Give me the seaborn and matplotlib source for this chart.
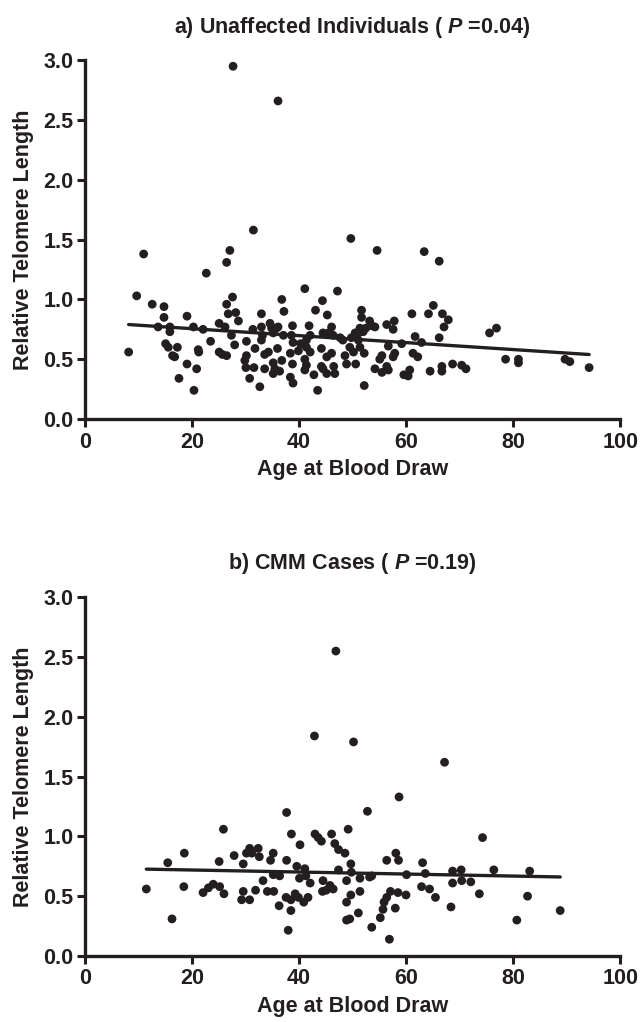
import numpy as np
import matplotlib
matplotlib.use("Agg")
import matplotlib.pyplot as plt
import seaborn as sns

# Panel a: unaffected individuals (age at blood draw, relative telomere length)
age_a = [27.7, 36.1, 31.5, 49.7, 11.0, 27.1, 26.5, 22.7, 9.7, 12.6, 14.8, 14.8, 13.7, 15.9, 15.9,
         19.1, 20.3, 22.1, 8.2, 15.1, 15.6, 17.3, 16.4, 16.8, 21.2, 21.3, 19.1, 20.9, 17.6, 20.4,
         23.5, 25.1, 26.2, 25.1, 25.7, 26.5, 26.5, 26.8, 27.6, 28.2, 28.7, 27.4, 28.0, 30.2, 31.4,
         33.0, 33.0, 33.2, 31.8, 30.2, 29.9, 30.1, 31.6, 30.8, 32.7, 33.6, 34.3, 33.6, 34.6, 34.9,
         35.8, 36.1, 35.2, 36.8, 37.2, 37.1, 36.0, 36.8, 35.2, 35.5, 36.4, 38.8, 38.6, 38.9, 38.4,
         38.8, 38.4, 38.9, 41.1, 41.9, 42.1, 40.3, 41.4, 42.1, 41.1, 42.8, 43.5, 43.1, 44.4, 45.3,
         46.1, 45.5, 44.5, 44.2, 45.2, 46.1, 44.5, 45.2, 46.5, 46.7, 47.2,
         54.6, 63.4, 66.2, 51.7, 51.7, 53.2, 53.6, 54.2, 52.5, 51.4, 50.5, 51.1, 52.0, 56.4, 57.8,
         57.6, 61.1, 61.7, 62.9, 64.2, 65.1, 66.8, 67.9, 67.1, 66.2, 48.2, 49.5, 51.1, 51.4, 52.2,
         48.6, 48.9, 50.6, 56.7, 59.2, 57.9, 57.6, 55.5, 55.1, 61.3, 62.2, 54.2, 55.5, 56.7, 52.2,
         59.6, 60.7, 60.4, 64.5, 66.7, 66.7, 68.7, 70.4, 71.2, 75.6, 76.9, 78.6, 81.0, 81.0, 89.7,
         90.6, 94.2,
         33.0, 41.4, 46.4, 47.7, 49.8, 39.9, 50.2, 35.2, 41.1, 41.4, 44.2, 56.4]
rtl_a = [2.95, 2.66, 1.58, 1.51, 1.38, 1.41, 1.31, 1.22, 1.03, 0.96, 0.94, 0.85, 0.77, 0.77, 0.73,
         0.86, 0.77, 0.75, 0.56, 0.63, 0.60, 0.60, 0.53, 0.52, 0.58, 0.56, 0.46, 0.42, 0.34, 0.24,
         0.65, 0.80, 0.77, 0.56, 0.54, 0.53, 0.96, 0.88, 1.02, 0.89, 0.82, 0.70, 0.62, 0.65, 0.75,
         0.88, 0.77, 0.70, 0.59, 0.53, 0.49, 0.43, 0.43, 0.34, 0.27, 0.54, 0.56, 0.42, 0.80, 0.76,
         0.76, 0.77, 0.72, 1.00, 0.90, 0.70, 0.59, 0.49, 0.47, 0.42, 0.40, 0.78, 0.70, 0.64, 0.55,
         0.46, 0.35, 0.30, 1.09, 0.78, 0.70, 0.63, 0.60, 0.56, 0.41, 0.37, 0.24, 0.91, 0.99, 0.87,
         0.77, 0.72, 0.72, 0.59, 0.52, 0.55, 0.42, 0.38, 0.44, 0.38, 1.07,
         1.41, 1.40, 1.32, 0.91, 0.85, 0.82, 0.78, 0.77, 0.76, 0.76, 0.72, 0.72, 0.73, 0.79, 0.82,
         0.75, 0.88, 0.69, 0.64, 0.88, 0.95, 0.88, 0.83, 0.77, 0.68, 0.66, 0.60, 0.66, 0.60, 0.55,
         0.53, 0.46, 0.46, 0.61, 0.63, 0.55, 0.52, 0.53, 0.50, 0.55, 0.52, 0.42, 0.39, 0.41, 0.28,
         0.37, 0.41, 0.36, 0.40, 0.44, 0.40, 0.46, 0.45, 0.42, 0.72, 0.76, 0.50, 0.50, 0.47, 0.50,
         0.48, 0.43,
         0.66, 0.66, 0.70, 0.68, 0.68, 0.57, 0.56, 0.38, 0.50, 0.45, 0.44, 0.44]

# Panel b: CMM cases
age_b = [46.9, 42.9, 50.2, 37.7, 67.2, 58.7, 52.8, 25.9, 38.6, 40.2, 43.0, 43.6, 44.2, 46.1, 46.7,
         47.4, 48.6, 49.2, 30.8, 32.4, 31.2, 32.6, 30.2, 35.2, 34.7, 37.7, 27.9, 29.6, 25.1, 18.6,
         15.5, 11.5, 18.5, 16.3, 22.1, 23.1, 24.0, 25.2, 26.0, 29.6, 29.3, 30.8, 31.9, 33.3, 34.1,
         35.3, 35.2, 36.4, 36.3, 37.6, 38.5, 38.5, 38.0, 39.3, 39.9, 40.9, 41.7, 39.6, 40.1, 41.1,
         41.3, 42.1, 44.5, 44.4, 45.1, 45.8, 46.4, 47.4, 48.9, 49.7, 49.8, 48.9, 49.7, 48.9, 49.5,
         51.1, 51.4,
         74.3, 58.1, 58.6, 56.4, 63.1, 63.6, 60.1, 51.4, 53.2, 53.6, 68.7, 70.3, 68.7, 70.4, 72.1,
         76.4, 83.1, 62.9, 64.4, 65.5, 73.7, 82.7, 88.8, 80.7, 68.4, 57.1, 56.4, 55.9, 58.5, 60.0,
         55.7, 55.2, 58.0, 53.6, 56.9]
rtl_b = [2.55, 1.84, 1.79, 1.20, 1.62, 1.33, 1.21, 1.06, 1.02, 0.93, 1.02, 0.99, 0.96, 1.02, 0.94,
         0.89, 0.86, 1.06, 0.90, 0.90, 0.86, 0.83, 0.86, 0.86, 0.80, 0.80, 0.84, 0.77, 0.79, 0.86,
         0.78, 0.56, 0.58, 0.31, 0.53, 0.57, 0.60, 0.58, 0.52, 0.54, 0.47, 0.47, 0.55, 0.63, 0.54,
         0.54, 0.68, 0.67, 0.42, 0.49, 0.47, 0.38, 0.215, 0.52, 0.49, 0.45, 0.49, 0.75, 0.65, 0.73,
         0.67, 0.61, 0.63, 0.54, 0.55, 0.59, 0.56, 0.72, 0.63, 0.77, 0.70, 0.45, 0.51, 0.30, 0.31,
         0.36, 0.54,
         0.99, 0.86, 0.80, 0.80, 0.78, 0.69, 0.68, 0.65, 0.66, 0.67, 0.71, 0.72, 0.61, 0.63, 0.62,
         0.72, 0.71, 0.58, 0.56, 0.49, 0.52, 0.50, 0.38, 0.30, 0.41, 0.54, 0.49, 0.45, 0.53, 0.51,
         0.39, 0.32, 0.40, 0.24, 0.14]

titles = ["a) Unaffected Individuals ( $\\mathit{P}$ =0.04)",
          "b) CMM Cases ( $\\mathit{P}$ =0.19)"]
x_ticks = [0, 20, 40, 60, 80, 100]
y_ticks = [0.0, 0.5, 1.0, 1.5, 2.0, 2.5, 3.0]

sns.set_style("ticks")
plt.rcParams["font.family"] = ["Liberation Sans", "DejaVu Sans"]
plt.rcParams["font.weight"] = "bold"
plt.rcParams["mathtext.fontset"] = "custom"
plt.rcParams["mathtext.it"] = "Liberation Sans:italic:bold"
plt.rcParams["mathtext.rm"] = "Liberation Sans:bold"

ink = "#231f20"
fs = 15.5
fig = plt.figure(figsize=(6.42, 10.22), dpi=100)
ax_a = fig.add_axes([0.132, 0.590, 0.834, 0.351])
ax_b = fig.add_axes([0.132, 0.0646, 0.834, 0.351])

for ax, ages, vals, title in [(ax_a, age_a, rtl_a, titles[0]), (ax_b, age_b, rtl_b, titles[1])]:
    sns.regplot(x=np.array(ages), y=np.array(vals), ax=ax, ci=None,
                scatter_kws=dict(s=40, color=ink, edgecolor="none", alpha=1),
                line_kws=dict(color=ink, lw=2.4))
    ax.set_xlim(0, 100)
    ax.set_ylim(0, 3.0)
    ax.set_xticks(x_ticks)
    ax.set_yticks(y_ticks)
    ax.set_yticklabels([f"{v:.1f}" for v in y_ticks])
    ax.tick_params(axis="both", width=2.2, length=6, labelsize=fs, colors=ink, pad=2)
    ax.tick_params(axis="x", pad=3)
    for side in ["left", "bottom"]:
        ax.spines[side].set_linewidth(2.4)
        ax.spines[side].set_color(ink)
    sns.despine(ax=ax)
    ax.set_xlabel("Age at Blood Draw", fontsize=fs, fontweight="bold", color=ink, labelpad=5)
    ax.set_ylabel("Relative Telomere Length", fontsize=fs, fontweight="bold", color=ink, labelpad=7)
    ax.set_title(title, fontsize=fs, fontweight="bold", color=ink, pad=20)
    for lab in ax.get_xticklabels() + ax.get_yticklabels():
        lab.set_fontweight("bold")

fig.savefig("out.png", dpi=100)
